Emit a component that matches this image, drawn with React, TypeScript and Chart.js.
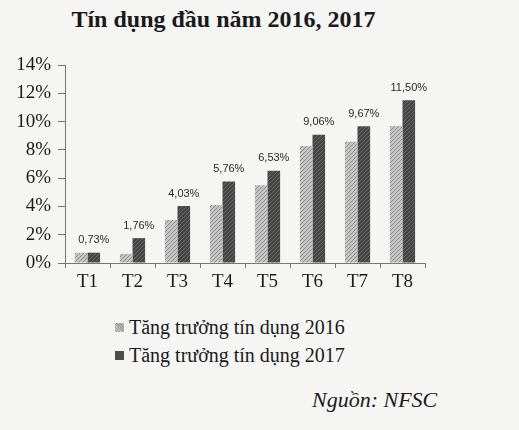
import { useEffect, useRef } from "react";
import { Chart, registerables } from "chart.js";

Chart.register(...registerables);

const months = ["T1", "T2", "T3", "T4", "T5", "T6", "T7", "T8"];
const growth2016 = [0.72, 0.64, 3.04, 4.1, 5.5, 8.27, 8.58, 9.69];
const growth2017 = [0.73, 1.76, 4.03, 5.76, 6.53, 9.06, 9.67, 11.5];
const yTicks = [0, 2, 4, 6, 8, 10, 12, 14];

const serif = "'Liberation Serif', 'DejaVu Serif', serif";

// small crosshatch tiles, like the printed fills
function makePattern(base: string, ink: string): CanvasPattern | string {
  const c = document.createElement("canvas");
  c.width = 4;
  c.height = 4;
  const ctx = c.getContext("2d");
  if (!ctx) return base;
  ctx.fillStyle = base;
  ctx.fillRect(0, 0, 4, 4);
  ctx.fillStyle = ink;
  ctx.fillRect(0, 0, 1, 1);
  ctx.fillRect(2, 2, 1, 1);
  ctx.fillRect(1, 3, 1, 1);
  ctx.fillRect(3, 1, 1, 1);
  return ctx.createPattern(c, "repeat") || base;
}

const fmt = (v: number) => v.toFixed(2).replace(".", ",") + "%";

const valueLabels = {
  id: "valueLabels",
  afterDatasetsDraw(chart: Chart) {
    const ctx = chart.ctx;
    const meta = chart.getDatasetMeta(1);
    ctx.save();
    ctx.font = "11px 'Liberation Sans', Arial, sans-serif";
    ctx.fillStyle = "#2a2a2a";
    ctx.textAlign = "center";
    ctx.textBaseline = "bottom";
    meta.data.forEach((bar: any, i: number) => {
      ctx.fillText(fmt(growth2017[i]), bar.x, bar.y - 7);
    });
    ctx.restore();
  },
};

export default function App() {
  const canvasRef = useRef<HTMLCanvasElement>(null);
  const chartRef = useRef<Chart | null>(null);

  useEffect(() => {
    if (!canvasRef.current) return;

    chartRef.current?.destroy();
    chartRef.current = new Chart(canvasRef.current, {
      type: "bar",
      data: {
        labels: months,
        datasets: [
          {
            label: "Tăng trưởng tín dụng 2016",
            data: growth2016,
            backgroundColor: makePattern("#c6c6c6", "#8a8a8a"),
            categoryPercentage: 0.56,
            barPercentage: 1,
          },
          {
            label: "Tăng trưởng tín dụng 2017",
            data: growth2017,
            backgroundColor: makePattern("#444444", "#6a6a6a"),
            categoryPercentage: 0.56,
            barPercentage: 1,
          },
        ],
      },
      options: {
        responsive: true,
        maintainAspectRatio: false,
        animation: false,
        layout: { padding: { top: 65, left: 0, right: 94, bottom: 0 } },
        plugins: {
          legend: { display: false },
          tooltip: { enabled: false },
        },
        scales: {
          x: {
            afterFit: (s: any) => {
              s.height = 37;
            },
            grid: {
              offset: true,
              drawOnChartArea: false,
              tickLength: 5,
              color: "#777",
            },
            border: { color: "#777" },
            ticks: {
              color: "#1a1a1a",
              font: { family: serif, size: 19 },
              padding: 3,
            },
          },
          y: {
            min: 0,
            max: 14,
            afterFit: (s: any) => {
              s.width = 65;
            },
            afterBuildTicks: (s: any) => {
              s.ticks = yTicks.map((v) => ({ value: v }));
            },
            grid: {
              drawOnChartArea: false,
              tickLength: 7,
              color: "#777",
            },
            border: { color: "#777" },
            ticks: {
              color: "#1a1a1a",
              font: { family: serif, size: 19 },
              padding: 7,
              callback: (v: any) => v + "%",
            },
          },
        },
      },
      plugins: [valueLabels],
    });

    return () => {
      chartRef.current?.destroy();
    };
  }, []);

  const marker = (bg: string) => ({
    display: "inline-block",
    width: 9,
    height: 9,
    background: bg,
    marginRight: 5,
    verticalAlign: "middle",
    position: "relative" as const,
    top: -2,
  });

  return (
    <div
      style={{
        position: "absolute",
        left: 0,
        top: 0,
        width: 519,
        height: 430,
        background: "#f5f5f3",
        fontFamily: serif,
        color: "#1a1a1a",
        overflow: "hidden",
      }}
    >
      <div
        style={{
          position: "absolute",
          top: 5,
          left: 0,
          width: 447,
          textAlign: "center",
          fontWeight: "bold",
          fontSize: 24,
          lineHeight: "28px",
          whiteSpace: "nowrap",
        }}
      >
        Tín dụng đầu năm 2016, 2017
      </div>
      <div style={{ position: "absolute", left: 0, top: 0, width: 519, height: 300 }}>
        <canvas ref={canvasRef} />
      </div>
      <div style={{ position: "absolute", left: 115, top: 313, fontSize: 20, lineHeight: "28px" }}>
        <div>
          <span style={marker("repeating-linear-gradient(45deg,#c4c4c4 0 1px,#9a9a9a 1px 2px)")} />
          Tăng trưởng tín dụng 2016
        </div>
        <div>
          <span style={marker("#4c4c4c")} />
          Tăng trưởng tín dụng 2017
        </div>
      </div>
      <div
        style={{
          position: "absolute",
          left: 312,
          top: 387,
          fontSize: 22,
          fontStyle: "italic",
          whiteSpace: "nowrap",
        }}
      >
        Nguồn: NFSC
      </div>
    </div>
  );
}
